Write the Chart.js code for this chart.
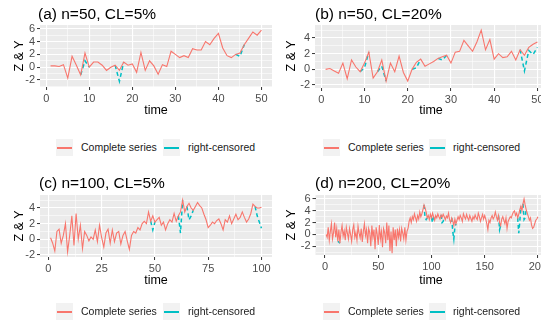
<!DOCTYPE html>
<html>
<head>
<meta charset="utf-8">
<script src="https://cdn.jsdelivr.net/npm/chart.js@4.4.1/dist/chart.umd.min.js"></script>
<style>
html,body{margin:0;padding:0;background:#fff;overflow:hidden;width:541px;height:328px;}
body{position:relative;font-family:"Liberation Sans",Arial,sans-serif;}
canvas{position:absolute;}
.title{position:absolute;font-size:15.5px;line-height:18px;color:#000;white-space:nowrap;}
.ylab{position:absolute;font-size:12.5px;line-height:14px;color:#000;white-space:nowrap;transform:translate(-50%,-50%) rotate(-90deg);}
.xlab{position:absolute;font-size:12.5px;line-height:14px;color:#000;white-space:nowrap;transform:translate(-50%,-50%);}
.key{position:absolute;width:17px;height:17px;background:#f2f2f2;}
.kline{position:absolute;left:1px;width:15px;top:8px;height:0;border-top-width:2px;border-top-style:solid;}
.ltxt{position:absolute;font-size:10.5px;line-height:12px;color:#1a1a1a;white-space:nowrap;}
</style>
</head>
<body>
<canvas id="ca" width="280" height="124" style="left:0;top:0"></canvas>
<canvas id="cb" width="290" height="124" style="left:275px;top:0"></canvas>
<canvas id="cc" width="280" height="120" style="left:0;top:170px"></canvas>
<canvas id="cd" width="290" height="120" style="left:275px;top:170px"></canvas>

<div class="title" style="left:38px;top:5px">(a) n=50, CL=5%</div>
<div class="title" style="left:315px;top:5px">(b) n=50, CL=20%</div>
<div class="title" style="left:39px;top:174px">(c) n=100, CL=5%</div>
<div class="title" style="left:315px;top:174px">(d) n=200, CL=20%</div>

<div class="ylab" style="left:19px;top:56px">Z &amp; Y</div>
<div class="ylab" style="left:291px;top:56px">Z &amp; Y</div>
<div class="ylab" style="left:19px;top:226px">Z &amp; Y</div>
<div class="ylab" style="left:291px;top:225px">Z &amp; Y</div>

<div class="xlab" style="left:156px;top:110px">time</div>
<div class="xlab" style="left:431px;top:110px">time</div>
<div class="xlab" style="left:156px;top:280px">time</div>
<div class="xlab" style="left:431px;top:280px">time</div>

<div id="legends"></div>

<script>
// ---------- data ----------
const legendLabels = ['Complete series', 'right-censored'];
const seriesColors = ['#F8766D', '#00BFC4'];

const aXTicks = [0, 10, 20, 30, 40, 50];
const aYTicks = [-2, 0, 2, 4, 6];
const aComplete = [0.2,0.2,0.1,0.4,-1.7,1.7,0.3,-1.2,2.2,0.0,
  0.8,0.8,0.3,-0.5,0.0,0.3,-0.5,0.8,0.3,0.5,
  -0.8,2.3,-0.5,1.0,0.2,-1.1,0.4,0.1,2.5,2.0,
  1.5,1.8,1.5,2.9,2.7,2.7,4.0,3.5,4.5,5.3,
  3.0,1.8,1.5,2.0,2.2,3.5,4.5,5.5,5.0,5.8];
const aCensored = [0.2,0.2,0.1,0.4,-1.7,1.7,0.3,-1.2,1.0,0.0,
  0.8,0.8,0.3,-0.5,0.0,0.3,-2.2,0.8,0.3,0.5,
  -0.8,2.3,-0.5,1.0,0.2,-1.1,0.4,0.1,2.5,2.0,
  1.5,1.8,1.5,2.9,2.7,2.7,4.0,3.5,4.5,5.3,
  3.0,1.8,1.5,2.0,1.7,3.5,4.5,5.5,5.0,5.8];

const bXTicks = [0, 10, 20, 30, 40, 50];
const bYTicks = [-2, 0, 2, 4];
const bComplete = [0.0,0.1,-0.2,-0.5,0.8,-1.2,1.2,0.3,-0.3,0.8,
  2.2,-1.1,-0.3,1.2,-1.5,0.8,-0.3,1.7,-0.4,-1.5,
  0.0,0.9,1.3,0.4,0.7,1.0,1.4,1.6,1.8,0.8,
  2.2,2.3,3.7,3.0,2.3,3.5,5.0,2.5,3.8,1.3,
  2.0,1.5,1.6,2.3,1.2,2.5,1.8,2.8,3.2,3.5];
const bCensored = [0.0,0.1,-0.2,-0.5,0.8,-1.2,1.2,0.3,-0.3,0.2,
  2.2,-1.1,-0.3,0.4,-1.5,0.8,-0.3,1.7,-0.4,-1.5,
  0.0,0.2,1.3,0.4,0.7,1.0,1.4,1.2,1.8,0.8,
  2.2,2.3,3.7,3.0,2.3,3.5,5.0,2.5,3.8,1.3,
  2.0,1.5,1.6,2.3,1.2,2.5,-0.2,2.4,1.9,2.8];

const cXTicks = [0, 25, 50, 75, 100];
const cYTicks = [-2, 0, 2, 4];
const cComplete = [0.2,-0.5,-1.5,1.0,1.3,-0.5,0.5,2.0,-1.6,0.5,
  3.0,-0.8,3.3,0.0,1.8,-1.2,1.0,0.5,-0.2,0.3,
  0.0,1.2,-0.3,1.8,0.2,-1.0,0.8,1.3,-0.5,1.2,
  -0.3,0.8,1.0,-0.6,0.5,1.0,-0.2,-1.3,0.5,1.0,
  0.8,1.5,1.2,2.0,2.3,2.0,3.5,2.3,3.0,2.2,
  2.5,2.8,1.8,2.2,1.2,2.0,2.5,2.2,3.3,2.3,
  3.0,3.5,5.0,3.5,4.2,4.6,4.0,3.7,4.2,4.7,
  4.3,4.0,3.2,2.5,1.5,1.8,2.2,2.0,2.4,2.6,
  2.0,1.2,2.5,2.2,3.0,2.0,2.6,3.2,2.5,2.8,
  3.5,2.8,2.2,2.6,3.3,4.5,4.2,4.0,4.0,4.1];
const cCensored = [0.2,-0.5,-1.5,1.0,1.3,-0.5,0.5,2.0,-1.6,0.5,
  3.0,-0.8,3.3,0.0,1.8,-1.2,1.0,0.5,-0.2,0.3,
  0.0,1.2,-0.3,1.8,0.2,-1.0,0.8,1.3,-0.5,1.2,
  -0.3,0.8,1.0,-0.6,0.5,1.0,-0.2,-1.3,0.5,1.0,
  0.8,1.5,1.2,2.0,2.3,2.0,3.5,2.3,1.2,2.2,
  2.5,2.8,1.8,2.2,1.2,2.0,2.5,2.2,3.3,2.3,
  3.0,0.8,5.0,3.5,4.2,2.5,3.0,3.7,4.2,4.7,
  4.3,4.0,3.2,2.5,1.5,1.8,2.2,2.0,2.4,2.6,
  2.0,1.2,2.5,2.2,3.0,2.0,2.6,3.2,2.5,2.8,
  3.5,2.8,2.2,2.6,3.3,4.5,4.2,3.0,2.2,1.4];

const dXTicks = [0, 50, 100, 150, 200];
const dYTicks = [-2, 0, 2, 4, 6];
const dComplete = [0.0,-0.5,1.2,-1.0,0.5,1.8,-0.8,0.3,2.0,-0.5,
  1.0,-1.2,0.8,-1.5,0.4,1.5,-0.3,0.6,-1.0,1.2,
  0.2,-0.8,1.0,0.0,-1.2,0.8,1.6,-0.5,0.3,-1.0,
  1.4,0.2,-0.6,1.0,-1.3,0.5,1.8,-0.2,0.8,-1.5,
  1.0,0.3,-2.0,1.5,-0.5,0.8,-2.5,1.2,0.0,-1.8,
  1.6,-0.8,0.5,-2.2,1.0,0.3,-1.5,2.0,-1.0,1.5,
  -2.8,0.5,-3.2,1.2,-1.0,0.8,-2.0,1.0,-0.5,0.8,
  -1.2,1.0,0.2,-0.8,1.2,-1.0,0.5,1.0,2.2,2.8,
  2.0,3.0,2.5,3.5,2.8,2.2,3.2,2.6,3.8,3.0,
  3.5,4.2,5.0,4.5,3.8,2.8,3.2,2.5,3.4,2.8,
  3.6,3.0,2.4,3.2,2.8,3.5,3.0,2.6,3.3,2.9,
  3.4,3.0,2.5,3.1,2.8,3.6,2.5,2.0,2.8,2.3,
  1.5,2.6,1.8,2.4,3.0,2.5,3.2,2.8,2.2,3.5,
  3.0,2.6,3.4,2.8,2.4,3.2,2.7,2.2,3.0,2.6,
  3.3,2.8,2.5,3.6,3.0,2.2,2.8,3.4,2.6,3.2,
  2.6,1.8,0.8,2.4,2.0,2.8,3.2,2.6,3.0,3.8,
  3.0,2.4,3.2,2.0,1.5,2.6,3.0,2.4,1.8,2.8,
  1.0,2.2,2.6,3.0,2.8,3.4,3.8,4.0,3.2,3.6,
  2.8,3.4,4.2,4.8,4.0,5.2,6.0,5.0,4.2,3.6,
  3.0,2.4,2.8,1.6,1.0,1.2,1.8,2.4,2.6,3.0];
const dCensored = [0.0,-0.5,1.2,-1.0,0.5,1.8,-0.8,0.3,2.0,-0.5,
  1.0,-1.2,-1.3,-1.5,0.4,1.5,-0.3,0.6,-1.0,1.2,
  0.2,-0.8,1.0,0.0,-1.2,0.8,1.6,-0.5,0.3,-1.0,
  1.4,0.2,-0.6,1.0,-1.3,0.5,1.8,-0.2,0.8,-1.5,
  1.0,0.3,-2.0,1.5,-0.5,0.8,-2.5,1.2,0.0,-1.8,
  1.6,-0.8,0.5,-2.2,1.0,0.3,-1.5,2.0,-1.0,1.5,
  -2.8,0.5,-3.2,1.2,-1.0,0.8,-2.0,1.0,-0.5,0.8,
  -1.2,1.0,0.2,-0.8,1.2,-1.0,0.5,1.0,2.2,2.8,
  2.0,3.0,2.5,3.5,2.8,2.2,3.2,2.6,3.8,3.0,
  3.5,4.2,5.0,2.8,2.5,2.8,3.2,2.5,3.4,2.8,
  2.0,3.0,2.4,3.2,2.8,3.5,3.0,2.6,3.3,2.0,
  2.2,3.0,2.5,3.1,2.8,3.6,2.5,2.0,2.8,0.5,
  -0.8,1.2,1.8,2.4,3.0,2.5,3.2,2.8,2.2,3.5,
  3.0,2.6,3.4,2.8,2.4,3.2,2.7,2.2,3.0,2.6,
  3.3,2.8,2.5,3.6,3.0,2.2,2.8,3.4,2.6,3.2,
  2.6,1.8,0.8,2.4,2.0,2.8,3.2,2.6,3.0,3.8,
  3.0,2.4,3.2,0.8,1.5,2.6,3.0,2.4,1.8,2.8,
  1.0,2.2,2.6,3.0,2.8,3.4,3.8,4.0,3.2,3.6,
  2.8,0.2,2.2,4.8,4.0,5.2,2.5,2.8,4.2,3.6,
  3.0,2.4,2.8,1.6,1.0,1.2,1.8,2.4,2.6,3.0];

// ---------- drawing ----------
Chart.defaults.font.family = '"Liberation Sans", Arial, sans-serif';

const panelBg = {
  id: 'panelBg',
  beforeDraw(chart) {
    const {ctx, chartArea: a} = chart;
    ctx.save();
    ctx.fillStyle = '#EBEBEB';
    ctx.fillRect(a.left, a.top, a.right - a.left, a.bottom - a.top);
    ctx.restore();
  }
};

function withMinor(major, lo, hi) {
  const step = major[1] - major[0];
  const all = [];
  for (let i = 0; i < major.length; i++) {
    all.push(major[i]);
    if (i < major.length - 1) all.push(major[i] + step / 2);
  }
  const before = major[0] - step / 2, after = major[major.length - 1] + step / 2;
  if (before >= lo) all.unshift(before);
  if (after <= hi) all.push(after);
  return all;
}

function axis(major, lo, hi, fitFn) {
  const all = withMinor(major, lo, hi);
  const isMaj = c => c && c.tick && major.includes(c.tick.value);
  return {
    type: 'linear', min: lo, max: hi,
    afterBuildTicks: s => { s.ticks = all.map(v => ({value: v})); },
    afterFit: fitFn,
    ticks: {autoSkip: false, maxRotation: 0, padding: 2, color: '#4d4d4d',
      font: {size: 11}, callback: v => major.includes(v) ? String(v) : ''},
    grid: {color: '#ffffff', lineWidth: c => isMaj(c) ? 1.1 : 0.55,
      tickColor: c => isMaj(c) ? '#333333' : 'rgba(0,0,0,0)',
      tickLength: 3, tickWidth: 1},
    border: {display: false}
  };
}

function panel(id, complete, censored, xTicks, xLo, xHi, yTicks, yLo, yHi, yW, xH, padTop, padRight) {
  const pts = arr => arr.map((y, i) => ({x: i + 1, y: y}));
  const same = i => censored[i] === complete[i];
  new Chart(document.getElementById(id), {
    type: 'line',
    data: {datasets: [
      {label: legendLabels[0], data: pts(complete), borderColor: seriesColors[0],
        borderWidth: 1.1, pointRadius: 0, tension: 0, order: 0},
      {label: legendLabels[1], data: pts(censored), borderColor: seriesColors[1],
        borderWidth: 1.5, borderDash: [4, 3], pointRadius: 0, tension: 0, order: 1,
        segment: {borderColor: c => (same(c.p0DataIndex) && same(c.p1DataIndex)) ? 'rgba(0,0,0,0)' : seriesColors[1]}}
    ]},
    options: {
      responsive: false, animation: false, devicePixelRatio: 1, events: [],
      layout: {padding: {left: 0, top: padTop, right: padRight, bottom: 0}},
      plugins: {legend: {display: false}, tooltip: {enabled: false}},
      scales: {
        x: axis(xTicks, xLo, xHi, s => { s.height = xH; }),
        y: axis(yTicks, yLo, yHi, s => { s.width = yW; })
      }
    },
    plugins: [panelBg]
  });
}

panel('ca', aComplete, aCensored, aXTicks, -1.45, 52.45, aYTicks, -3.1, 6.6, 40, 37, 25, 8);
panel('cb', bComplete, bCensored, bXTicks, -1.45, 52.45, bYTicks, -2.38, 5.66, 40, 36, 25, 17);
panel('cc', cComplete, cCensored, cXTicks, -3.95, 104.95, cYTicks, -2.26, 5.66, 40, 33, 25, 8);
panel('cd', dComplete, dCensored, dXTicks, -8.95, 209.95, dYTicks, -3.5, 6.68, 40.5, 35, 25, 16.5);

// ---------- legends ----------
const legendRows = [
  {y: 147, keys: [56, 163], texts: [81, 188]},
  {y: 147, keys: [323, 429], texts: [348, 453]},
  {y: 311, keys: [56, 163], texts: [81, 188]},
  {y: 311, keys: [323, 429], texts: [348, 453]}
];
const host = document.getElementById('legends');
legendRows.forEach(r => {
  for (let k = 0; k < 2; k++) {
    const key = document.createElement('div');
    key.className = 'key';
    key.style.left = r.keys[k] + 'px';
    key.style.top = (r.y - 8) + 'px';
    const ln = document.createElement('div');
    ln.className = 'kline';
    ln.style.borderTopColor = seriesColors[k];
    key.appendChild(ln);
    host.appendChild(key);
    const t = document.createElement('div');
    t.className = 'ltxt';
    t.style.left = r.texts[k] + 'px';
    t.style.top = (r.y - 6) + 'px';
    t.textContent = legendLabels[k];
    host.appendChild(t);
  }
});
</script>
</body>
</html>
